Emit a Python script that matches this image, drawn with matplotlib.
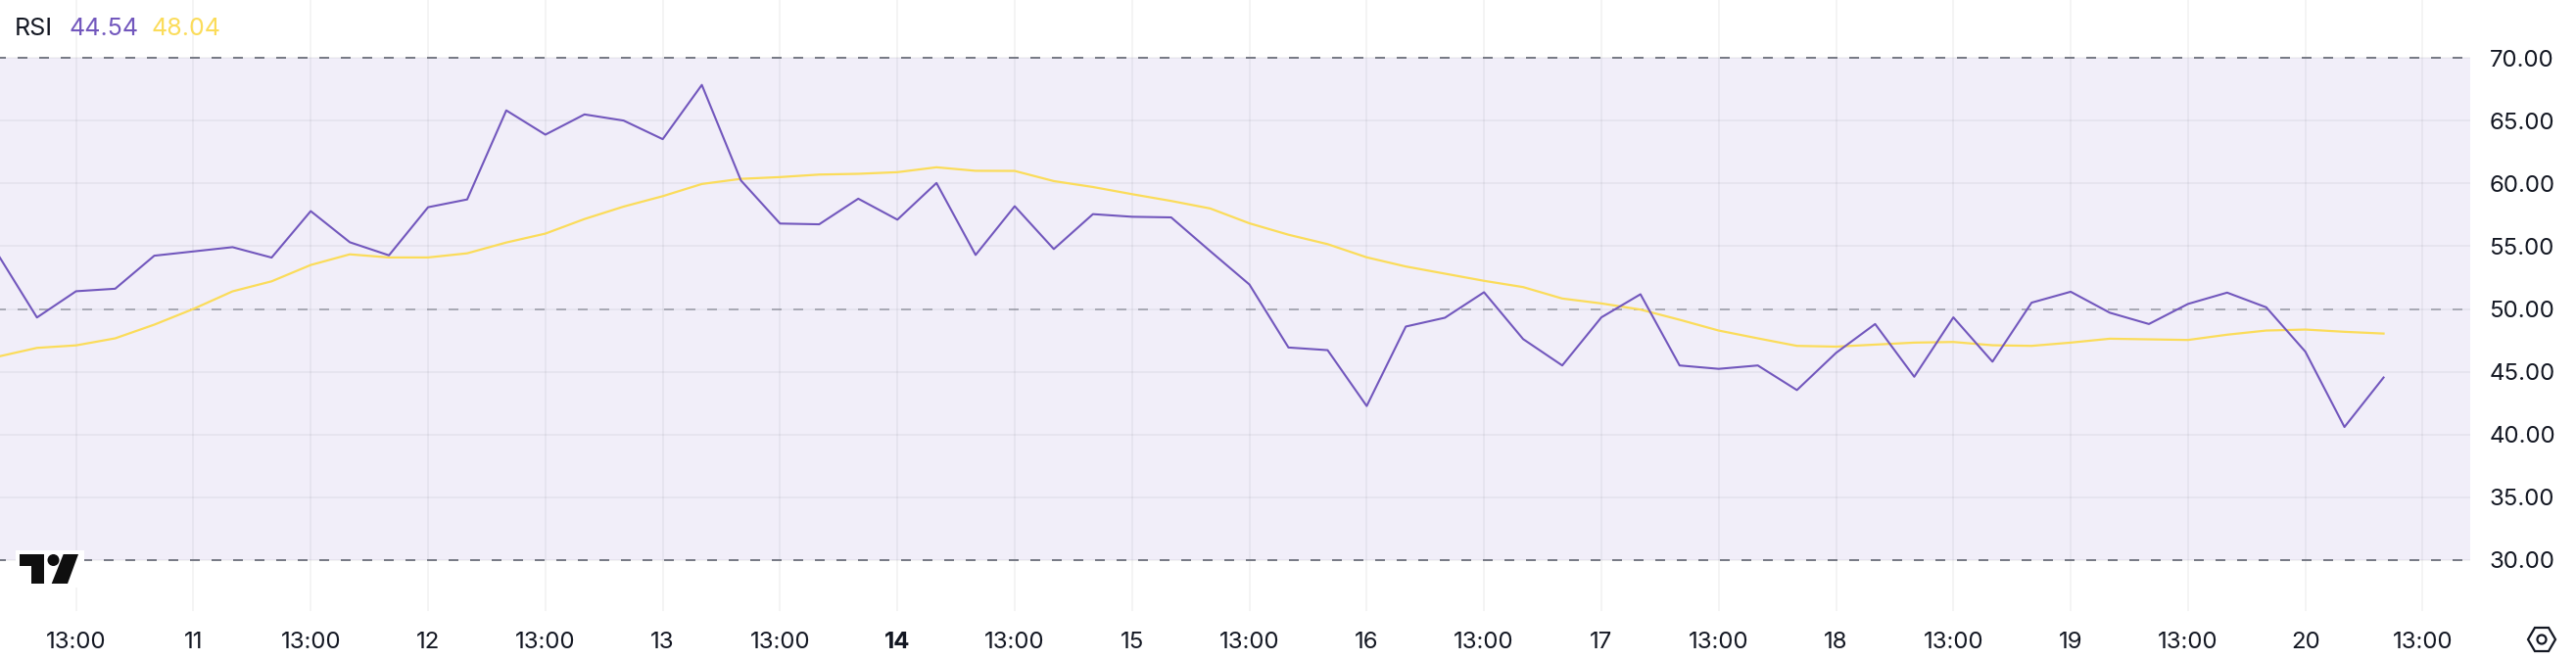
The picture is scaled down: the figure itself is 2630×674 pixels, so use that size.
import matplotlib
matplotlib.use('Agg')
import matplotlib.pyplot as plt
from matplotlib.patches import Polygon, Circle, Rectangle
from matplotlib.transforms import Affine2D

plt.rcParams['font.family'] = ['Inter', 'DejaVu Sans']

# 4h candles, values
rsi = [54.35, 49.32, 51.41, 51.61, 54.24, 54.58, 54.92, 54.09, 57.79, 55.31,
       54.27, 58.10, 58.72, 65.81, 63.88, 65.49, 65.00, 63.52, 67.84, 60.23,
       56.80, 56.74, 58.78, 57.11, 60.03, 54.30, 58.18, 54.77, 57.55, 57.34,
       57.29, 54.60, 51.95, 46.93, 46.72, 42.27, 48.60, 49.30, 51.33, 47.60,
       45.50, 49.33, 51.17, 45.50, 45.23, 45.50, 43.54, 46.50, 48.80, 44.60,
       49.33, 45.80, 50.50, 51.37, 49.70, 48.80, 50.40, 51.30, 50.13, 46.60,
       40.60, 44.54]
rsi_ma = [46.20, 46.90, 47.10, 47.66, 48.75, 50.00, 51.40, 52.20, 53.50, 54.35,
          54.10, 54.10, 54.43, 55.29, 56.00, 57.16, 58.15, 58.98, 59.95, 60.36,
          60.50, 60.70, 60.76, 60.89, 61.28, 61.00, 60.99, 60.18, 59.71, 59.14,
          58.60, 58.00, 56.82, 55.91, 55.16, 54.11, 53.38, 52.81, 52.24, 51.74,
          50.83, 50.44, 49.95, 49.14, 48.28, 47.66, 47.06, 47.00, 47.16, 47.32,
          47.37, 47.11, 47.06, 47.32, 47.63, 47.58, 47.53, 47.95, 48.28, 48.36,
          48.18, 48.04]

x_labels = ['13:00', '11', '13:00', '12', '13:00', '13', '13:00', '14', '13:00', '15',
            '13:00', '16', '13:00', '17', '13:00', '18', '13:00', '19', '13:00', '20',
            '13:00']
y_labels = [30, 35, 40, 45, 50, 55, 60, 65, 70]

W, H = 2630, 674
PLOT_W, PLOT_H = 2522, 624

PURPLE = '#7257BD'
YELLOW = '#FBDC5A'
GREY = '#787B86'
TEXT = '#131722'

fig = plt.figure(figsize=(W / 100, H / 100), dpi=100)
ax = fig.add_axes([0, (H - PLOT_H) / H, PLOT_W / W, PLOT_H / H])

# one candle is 39.93 px, one rsi unit is 12.825 px
ax.set_xlim(2.2 / 39.93, (PLOT_W + 2.2) / 39.93)
ax.set_ylim(30 - (PLOT_H - 572) / 12.825, 70 + 59 / 12.825)

for s in ax.spines.values():
    s.set_visible(False)

ax.axhspan(30, 70, color='#F1EEF9', lw=0, zorder=0)

x_ticks = list(range(2, 2 + 3 * len(x_labels), 3))
ax.set_xticks(x_ticks, x_labels)
ax.set_yticks(y_labels, ['%.2f' % v for v in y_labels])
ax.yaxis.tick_right()
ax.tick_params(axis='x', length=0, pad=15, labelsize=17.3, labelcolor=TEXT)
ax.tick_params(axis='y', length=0, pad=14, labelsize=17.3, labelcolor=TEXT)
ax.get_xticklabels()[7].set_fontweight('bold')

ax.grid(True, color='#2A2E39', alpha=0.05, lw=1.44, zorder=1)
ax.set_axisbelow(True)

for level, a in [(70, 1.0), (50, 0.55), (30, 1.0)]:
    ax.axhline(level, color=GREY, alpha=a, lw=1.44, ls=(2, (5, 6)), zorder=2)

ax.plot(range(len(rsi_ma)), rsi_ma, color=YELLOW, lw=1.6, zorder=3)
ax.plot(range(len(rsi)), rsi, color=PURPLE, lw=1.5, zorder=4)

# legend row
fig.text(15 / W, 1 - 29 / H, 'RSI', color=TEXT, fontsize=18, va='center')
fig.text(71 / W, 1 - 29 / H, '%.2f' % rsi[-1], color=PURPLE, fontsize=18, va='center')
fig.text(155 / W, 1 - 29 / H, '%.2f' % rsi_ma[-1], color=YELLOW, fontsize=18, va='center')

# shapes below are placed in image pixels, y going down
px = Affine2D().scale(1, -1).translate(0, H)

# logo
fig.add_artist(Rectangle((16, 562), 70, 38, fc='white', ec='none', transform=px, zorder=5))
logo = dict(fc='#0F0F0F', ec='none', transform=px, zorder=6)
fig.add_artist(Polygon([(20, 566), (44.6, 566), (44.6, 596), (32, 596), (32, 578), (20, 578)], **logo))
fig.add_artist(Circle((54.5, 572), 6, **logo))
fig.add_artist(Polygon([(64.7, 566), (80, 566), (69, 596), (52.7, 596)], **logo))

# settings icon
fig.add_artist(Polygon([(2581, 653), (2588, 641), (2602, 641), (2609, 653), (2602, 665), (2588, 665)],
                       closed=True, fc='none', ec=TEXT, lw=1.6, transform=px, zorder=6))
fig.add_artist(Circle((2595, 653), 4.5, fc='none', ec=TEXT, lw=1.6, transform=px, zorder=6))

fig.savefig('out.png', dpi=100)
